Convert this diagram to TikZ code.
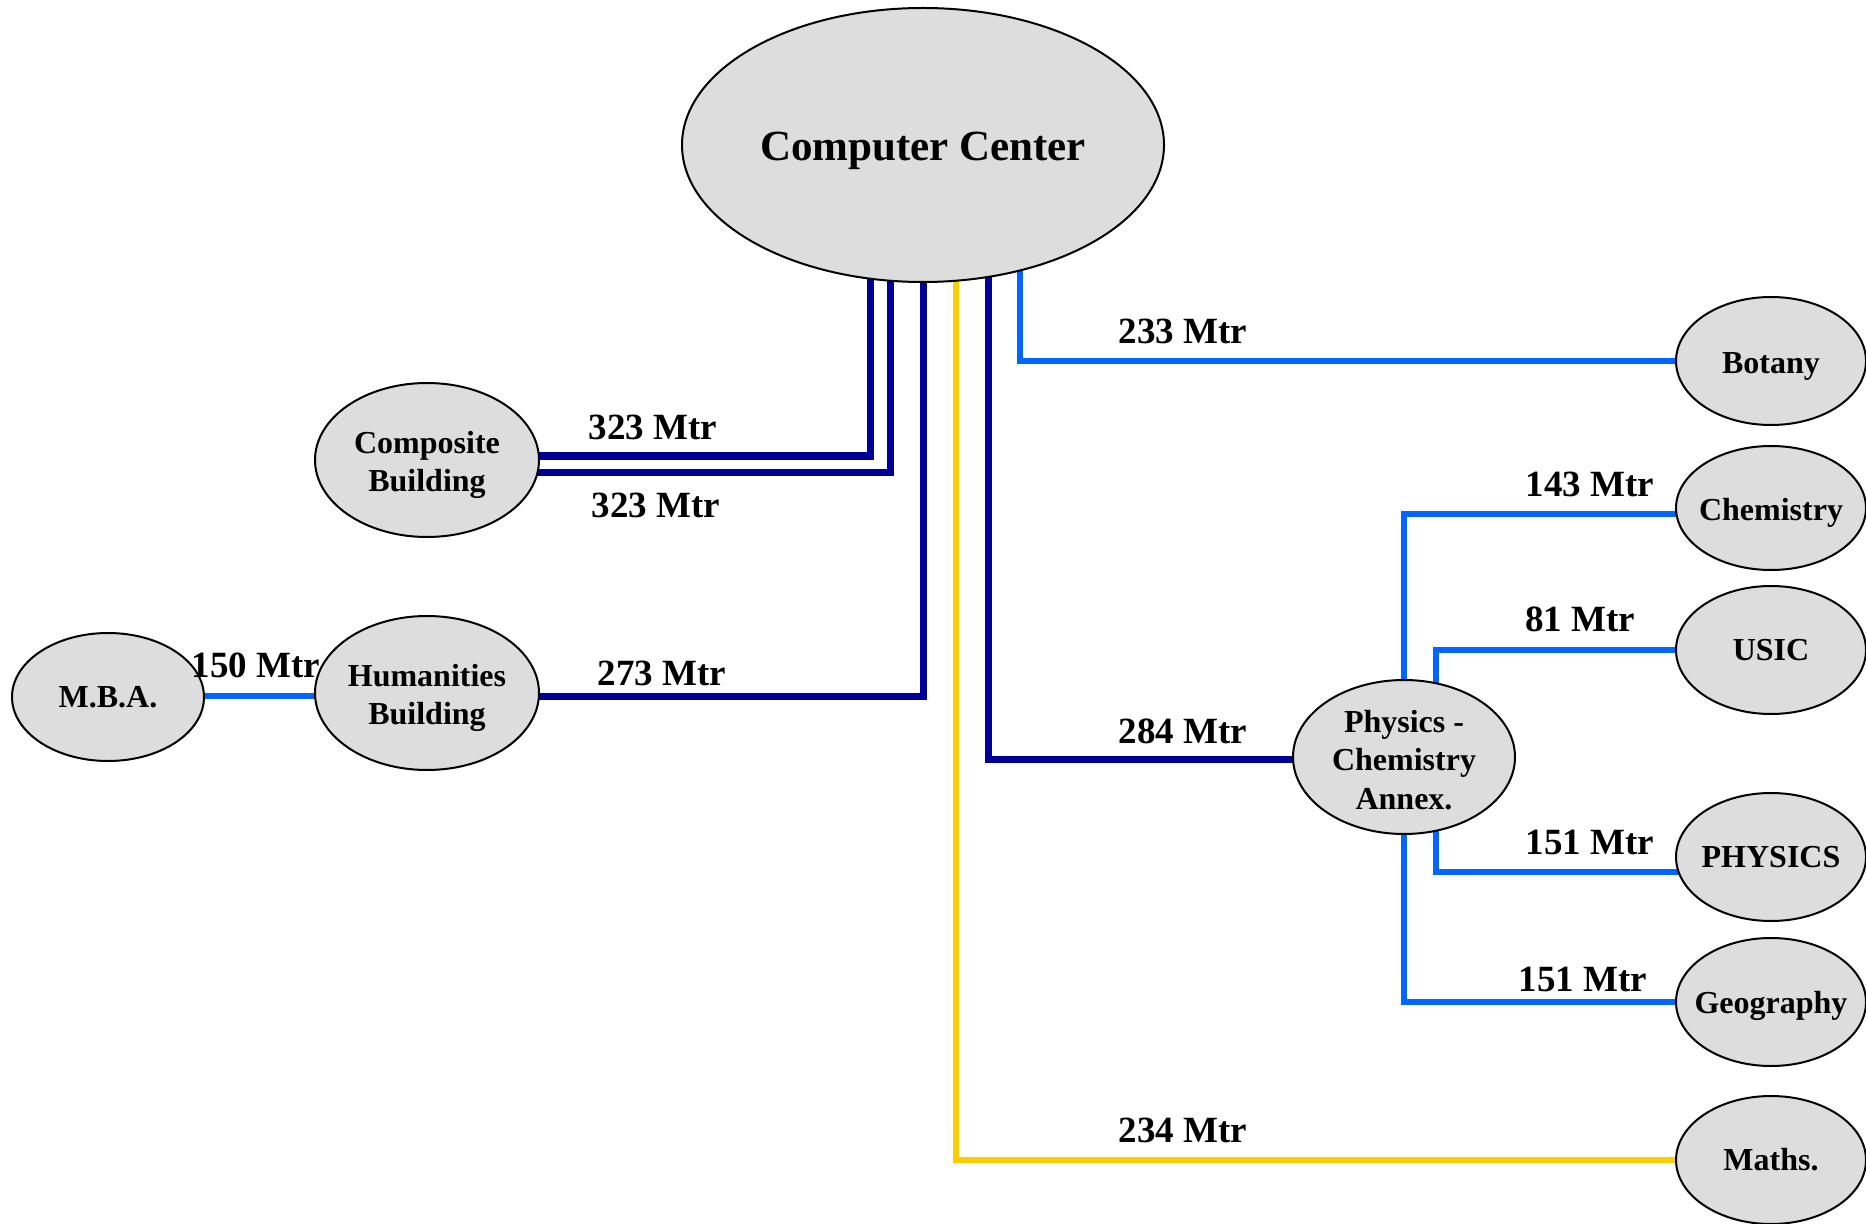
\documentclass[tikz,border=0pt]{standalone}
\usepackage{fontspec}
\setmainfont{Liberation Serif}
\usetikzlibrary{shapes.geometric,backgrounds}
\definecolor{dkblue}{HTML}{000099}
\definecolor{ltblue}{HTML}{0066FF}
\definecolor{ylw}{HTML}{FFCC00}
\definecolor{nodegray}{HTML}{DDDDDD}
\newcommand{\dnstrut}[1]{\rule{0pt}{#1}}
\begin{document}
\begin{tikzpicture}[x=0.5pt,y=-0.5pt,
  txtdown/.style={execute at begin node={\rule{0pt}{#1}}},
  bld/.style={ellipse,draw=black,line width=1pt,fill=nodegray,inner xsep=-20pt,inner ysep=-10pt,align=center,
    font=\fontsize{16}{19.25}\selectfont\bfseries},
  smallbld/.style={bld,minimum width=95pt,minimum height=64pt},
  bigbld/.style={bld,minimum width=112pt,minimum height=77pt},
  lbl/.style={inner sep=0pt,font=\fontsize{18.5}{22}\selectfont\bfseries},
  dk/.style={draw=dkblue,line width=3.5pt},
  lt/.style={draw=ltblue,line width=2.8pt},
  yl/.style={draw=ylw,line width=2.8pt}]
\useasboundingbox (0,0) rectangle (1866,1224);
% nodes
\node[bld,minimum width=241pt,minimum height=137pt,font=\fontsize{21.5}{26}\selectfont\bfseries,txtdown=20.5pt] (cc) at (923,145) {Computer Center};
\node[bigbld] (comp) at (427,460) {\dnstrut{16pt}Composite\\Building};
\node[bigbld] (hum) at (427,693) {\dnstrut{16pt}Humanities\\Building};
\node[smallbld,minimum width=96pt] (mba) at (108,697) {M.B.A.};
\node[bigbld,minimum width=111pt] (annex) at (1404,757) {\dnstrut{14pt}Physics -\\Chemistry\\Annex.};
\node[smallbld,txtdown=16pt] (bot) at (1771,361) {Botany};
\node[smallbld,minimum height=62pt,txtdown=16pt] (chem) at (1771,508) {Chemistry};
\node[smallbld] (usic) at (1771,650) {USIC};
\node[smallbld] (phys) at (1771,857) {PHYSICS};
\node[smallbld,txtdown=15pt] (geo) at (1771,1002) {Geography};
\node[smallbld] (maths) at (1771,1160) {Maths.};
% labels
\node[lbl] (l1) at (653,427) {323 Mtr};
\node[lbl] (l2) at (656,505) {323 Mtr};
\node[lbl] (l3) at (662,673) {273 Mtr};
\node[lbl] (l4) at (256,665) {150 Mtr};
\node[lbl] (l5) at (1183,331) {233 Mtr};
\node[lbl] (l6) at (1183,731) {284 Mtr};
\node[lbl] (l7) at (1183,1130) {234 Mtr};
\node[lbl] (l8) at (1590,484) {143 Mtr};
\node[lbl] (l9) at (1580,619) {81 Mtr};
\node[lbl] (l10) at (1590,842) {151 Mtr};
\node[lbl] (l11) at (1583,979) {151 Mtr};
% connectors
\begin{scope}[on background layer]
\fill[white] (0,0) rectangle (1866,1224);
\draw[dk] ([shift={(-53,0)}]cc.center) |- ([shift={(0,-4)}]comp.center);
\draw[dk] ([shift={(-33,0)}]cc.center) |- ([shift={(0,12)}]comp.center);
\draw[dk] (cc.center) |- ([shift={(0,3)}]hum.center);
\draw[dk] ([shift={(65,0)}]cc.center) |- ([shift={(0,2)}]annex.center);
\draw[lt] ([shift={(97,0)}]cc.center) |- (bot.center);
\draw[yl] ([shift={(33,0)}]cc.center) |- (maths.center);
\draw[lt] ([shift={(0,-1)}]mba.center) -- ([shift={(0,-1)}]mba.center -| hum.center);
\draw[lt] (annex.center) |- ([shift={(0,6)}]chem.center);
\draw[lt] ([shift={(32,0)}]annex.center) |- (usic.center);
\draw[lt] ([shift={(32,0)}]annex.center) |- ([shift={(0,15)}]phys.center);
\draw[lt] (annex.center) |- (geo.center);
\end{scope}
\end{tikzpicture}
\end{document}
